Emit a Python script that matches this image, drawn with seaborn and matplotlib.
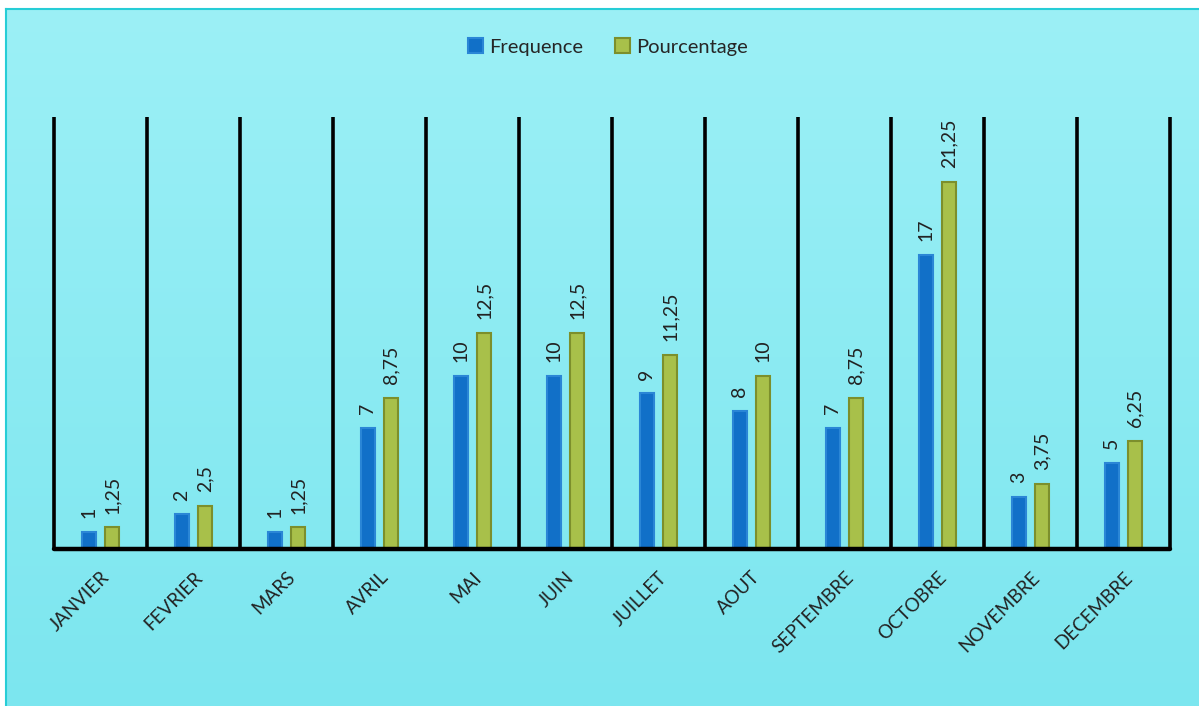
import numpy as np
import pandas as pd
import matplotlib
matplotlib.use("Agg")
import matplotlib.pyplot as plt
from matplotlib.patches import Patch
import seaborn as sns

mois = ["JANVIER", "FEVRIER", "MARS", "AVRIL", "MAI", "JUIN", "JUILLET",
        "AOUT", "SEPTEMBRE", "OCTOBRE", "NOVEMBRE", "DECEMBRE"]
frequence = [1, 2, 1, 7, 10, 10, 9, 8, 7, 17, 3, 5]
pourcentage = [1.25, 2.5, 1.25, 8.75, 12.5, 12.5, 11.25, 10, 8.75, 21.25, 3.75, 6.25]
series = ["Frequence", "Pourcentage"]

blue = "#1170C8"
blue_edge = "#2A86D6"
green = "#A8C04A"
green_edge = "#7C8F2C"

df = pd.DataFrame({
    "mois": mois * 2,
    "valeur": frequence + pourcentage,
    "serie": [series[0]] * len(mois) + [series[1]] * len(mois),
})

sns.set_theme(style="white")
plt.rcParams["font.family"] = ["Lato", "DejaVu Sans"]

W, H = 1199, 706
fig = plt.figure(figsize=(W / 100, H / 100), dpi=100)
fig.patch.set_facecolor("white")

# gradient background panel with a thin cyan frame
bg = fig.add_axes([6 / W, 0, 1 - 6 / W, 1 - 9 / H], zorder=-10)
grad = np.linspace(0, 1, 256).reshape(-1, 1)
cmap = matplotlib.colors.LinearSegmentedColormap.from_list("bg", ["#9CF0F6", "#7CE6EF"])
bg.imshow(grad, aspect="auto", cmap=cmap, extent=[0, 1, 0, 1], origin="upper")
bg.set_xticks([])
bg.set_yticks([])
for side, sp in bg.spines.items():
    sp.set_color("#27CDD6")
    sp.set_linewidth(1.5)
    if side in ("right", "bottom"):
        sp.set_visible(False)

ax = fig.add_axes([54 / W, 1 - 549 / H, (1170 - 54) / W, (549 - 117) / H])
ax.patch.set_alpha(0)

sns.barplot(data=df, x="mois", y="valeur", hue="serie", order=mois,
            hue_order=series, palette=[blue, green], width=0.5, gap=0.4,
            ax=ax, legend=False, saturation=1)

edges = [blue_edge, green_edge]
values = [frequence, pourcentage]
for cont, ec, vals in zip(ax.containers, edges, values):
    for p in cont:
        p.set_edgecolor(ec)
        p.set_linewidth(1.5)
    labels = [f"{v:g}".replace(".", ",") for v in vals]
    ax.bar_label(cont, labels=labels, rotation=90, padding=10,
                 fontsize=14, color="#222222")

ax.set_xlim(-0.5, len(mois) - 0.5)
ax.set_ylim(0, 25)
ax.set_xlabel("")
ax.set_ylabel("")
ax.set_yticks([])
for sp in ax.spines.values():
    sp.set_visible(False)

# category separators and baseline
ax.vlines(np.arange(-0.5, len(mois)), 0, 25, color="black", lw=2.6,
          zorder=3, clip_on=False)
ax.axhline(0, color="black", lw=3.2, zorder=4, clip_on=False)

ax.tick_params(axis="x", length=0, pad=14, labelsize=13.5, labelcolor="#222222")
for lbl in ax.get_xticklabels():
    lbl.set_rotation(45)
    lbl.set_ha("right")
    lbl.set_va("top")
    lbl.set_rotation_mode("anchor")
    lbl.set_fontstretch("expanded")

handles = [Patch(facecolor=blue, edgecolor=blue_edge, lw=1.5),
           Patch(facecolor=green, edgecolor=green_edge, lw=1.5)]
fig.legend(handles, series, loc="center", bbox_to_anchor=(0.507, 1 - 47 / H),
           ncol=2, frameon=False, fontsize=14.5, handlelength=0.75,
           handleheight=0.75, handletextpad=0.3, columnspacing=1.6)

fig.savefig("out.png", dpi=100)
